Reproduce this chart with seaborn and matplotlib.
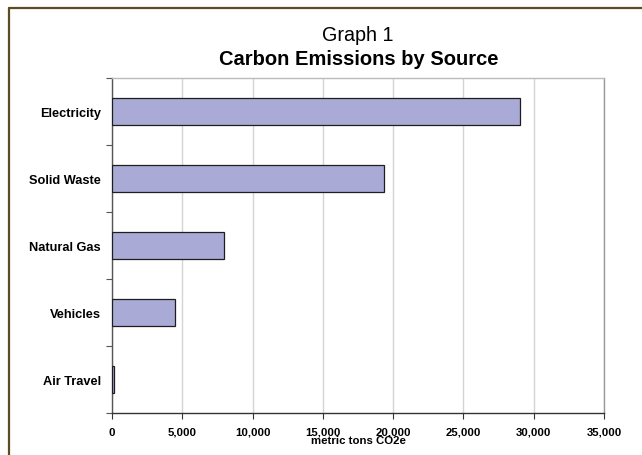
import matplotlib
matplotlib.use("Agg")
import matplotlib.pyplot as plt
import seaborn as sns
import pandas as pd
from matplotlib.lines import Line2D
from matplotlib.ticker import FuncFormatter, FixedLocator

# Emissions by source (metric tons CO2e)
sources = ["Electricity", "Solid Waste", "Natural Gas", "Vehicles", "Air Travel"]
emissions = [29000, 19350, 7950, 4480, 150]
x_ticks = [0, 5000, 10000, 15000, 20000, 25000, 30000, 35000]

df = pd.DataFrame({"source": sources, "emissions": emissions})

sns.set_theme(style="white")
plt.rcParams["font.family"] = ["Liberation Sans", "DejaVu Sans"]
plt.rcParams["text.color"] = "black"
plt.rcParams["xtick.color"] = "black"
plt.rcParams["ytick.color"] = "black"
plt.rcParams["axes.labelcolor"] = "black"

W, H = 642, 456
fig = plt.figure(figsize=(W / 100, H / 100), dpi=100)
fig.patch.set_facecolor("white")

left, right, top, bottom = 112, 604, 79, 414
ax = fig.add_axes([left / W, 1 - bottom / H, (right - left) / W, (bottom - top) / H])

sns.barplot(data=df, x="emissions", y="source", orient="h", width=0.4,
            color="#aaaad6", saturation=1, edgecolor="#1e1e1e", linewidth=0.9,
            ax=ax, zorder=3)

ax.set_xlim(0, 35000)
ax.set_ylim(len(sources) - 0.5, -0.5)
ax.xaxis.set_major_locator(FixedLocator(x_ticks))
ax.xaxis.set_major_formatter(FuncFormatter(lambda v, p: f"{int(v):,}"))
ax.grid(axis="x", color="#d4d4d4", linewidth=1.0, zorder=0)
ax.grid(axis="y", visible=False)

# y ticks at category boundaries, labels at centers
ax.set_yticks([i - 0.5 for i in range(len(sources) + 1)])
ax.set_yticklabels([])
ax.set_yticks(range(len(sources)), minor=True)
ax.set_yticklabels(sources, minor=True, fontweight="bold", fontsize=9.2)
ax.tick_params(axis="y", which="major", left=True, length=4, width=0.8, color="#555555")
ax.tick_params(axis="y", which="minor", left=False, length=0, pad=8)
ax.tick_params(axis="x", which="major", bottom=True, length=4, width=0.8, color="#333333",
               labelsize=8.2, pad=6)
for lab in ax.get_xticklabels():
    lab.set_fontweight("bold")

ax.set_ylabel("")
ax.set_xlabel("metric tons CO2e", fontweight="bold", fontsize=8.2, labelpad=-1)

ax.spines["left"].set_color("#555555")
ax.spines["bottom"].set_color("#333333")
ax.spines["top"].set_color("#bbbbbb")
ax.spines["right"].set_color("#999999")
for s in ax.spines.values():
    s.set_linewidth(1.0)

fig.text(358 / W, 1 - 41 / H, "Graph 1", ha="center", va="baseline", fontsize=14.2)
fig.text(359 / W, 1 - 65 / H, "Carbon Emissions by Source", ha="center", va="baseline",
         fontsize=14.5, fontweight="bold")

# outer frame
frame_color = "#5e4b22"
fig.add_artist(Line2D([9 / W, 1.0], [1 - 9 / H, 1 - 9 / H], color=frame_color,
                      linewidth=1.6, transform=fig.transFigure))
fig.add_artist(Line2D([9 / W, 9 / W], [1 - 9 / H, 0.0], color=frame_color,
                      linewidth=1.6, transform=fig.transFigure))

fig.savefig("out.png", dpi=100, facecolor="white")
